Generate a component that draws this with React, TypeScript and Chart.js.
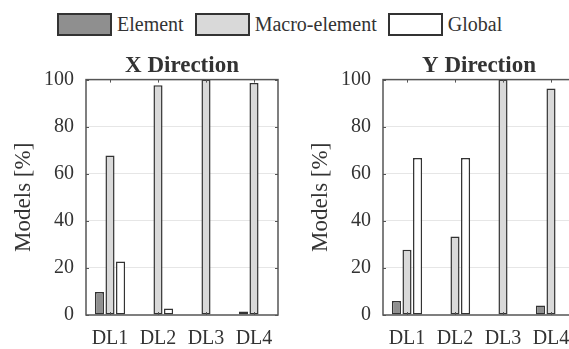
import React, { useEffect, useRef } from 'react';
import { Chart, registerables } from 'chart.js';

Chart.register(...registerables);

// ---- Data ----
const categories = ['DL1', 'DL2', 'DL3', 'DL4'];
const seriesNames = ['Element', 'Macro-element', 'Global'];

const xElement = [9.8, 0, 0, 1.5];
const xMacro = [67.8, 97.6, 100, 98.6];
const xGlobal = [22.7, 2.8, 0, 0];

const yElement = [6, 0, 0, 4];
const yMacro = [27.7, 33.4, 100, 96.2];
const yGlobal = [66.7, 66.7, 0, 0];

const panelTitles = ['X Direction', 'Y Direction'];
const yAxisTitle = 'Models [%]';

// ---- Styles ----
const FONT = "'Liberation Serif', 'Tinos'";
const seriesColors = ['#8f8f8f', '#d9d9d9', '#ffffff'];
const edgeColor = '#333333';
const textColor = '#333333';

const framePlugin = {
  id: 'frame',
  afterDatasetsDraw(chart: any) {
    const { ctx, chartArea: a, scales } = chart;
    ctx.save();
    ctx.strokeStyle = '#555555';
    ctx.lineWidth = 1;
    const line = (x1: number, y1: number, x2: number, y2: number) => {
      ctx.beginPath();
      ctx.moveTo(x1, y1);
      ctx.lineTo(x2, y2);
      ctx.stroke();
    };
    const xs = scales.x;
    xs.ticks.forEach((_: any, i: number) => {
      const px = Math.round(xs.getPixelForTick(i)) + 0.5;
      line(px, a.top, px, a.top + 3);
      line(px, a.bottom, px, a.bottom - 3);
    });
    const ys = scales.y;
    ys.ticks.forEach((_: any, i: number) => {
      const py = Math.round(ys.getPixelForTick(i)) + 0.5;
      line(a.left, py, a.left + 3, py);
      line(a.right, py, a.right - 3, py);
    });
    ctx.lineWidth = 1.5;
    ctx.strokeRect(a.left, a.top, a.right - a.left, a.bottom - a.top);
    ctx.restore();
  },
};

function Panel({ title, series, left }: { title: string; series: number[][]; left: number }) {
  const ref = useRef<HTMLCanvasElement | null>(null);
  useEffect(() => {
    if (!ref.current) return;
    const chart = new Chart(ref.current, {
      type: 'bar',
      data: {
        labels: categories,
        datasets: series.map((d, i) => ({
          label: seriesNames[i],
          data: d,
          backgroundColor: seriesColors[i],
          borderColor: edgeColor,
          borderWidth: (c: any) => (c.raw ? 1.5 : 0),
          borderSkipped: false,
          categoryPercentage: 0.66,
          barPercentage: 0.86,
        })),
      },
      options: {
        animation: false,
        responsive: false,
        maintainAspectRatio: false,
        layout: { padding: { left: 0, right: 12, top: 0, bottom: 0 } },
        plugins: {
          legend: { display: false },
          tooltip: { enabled: false },
          title: {
            display: true,
            fullSize: false,
            text: title,
            color: textColor,
            font: { family: FONT, size: 23, weight: 'bold', lineHeight: 1.2 },
            padding: { top: 4, bottom: 0 },
          },
        },
        scales: {
          x: {
            grid: { display: false, drawTicks: false },
            border: { display: false },
            ticks: {
              color: textColor,
              font: { family: FONT, size: 20, lineHeight: 1 },
              padding: 14,
              maxRotation: 0,
              autoSkip: false,
            },
            afterFit: (s: any) => {
              s.height = 34;
            },
          },
          y: {
            min: 0,
            max: 100,
            ticks: {
              stepSize: 20,
              color: textColor,
              font: { family: FONT, size: 20, lineHeight: 1 },
              padding: 12,
            },
            grid: {
              drawTicks: false,
              lineWidth: 1,
              color: (c: any) =>
                c.tick && (c.tick.value === 0 || c.tick.value === 100) ? 'rgba(0,0,0,0)' : '#e6e6e6',
            },
            border: { display: false },
            title: {
              display: true,
              text: yAxisTitle,
              color: textColor,
              font: { family: FONT, size: 23, lineHeight: 1.2 },
              padding: { top: 10, bottom: 0 },
            },
            afterFit: (s: any) => {
              s.width = 86;
            },
          },
        },
      },
      plugins: [framePlugin],
    } as any);
    return () => chart.destroy();
  }, [title, series]);
  return (
    <div style={{ position: 'absolute', left, top: 48, width: 290, height: 301 }}>
      <canvas ref={ref} width={290} height={301} style={{ width: 290, height: 301, display: 'block' }} />
    </div>
  );
}

export default function App() {
  return (
    <div
      style={{
        position: 'fixed',
        left: 0,
        top: 0,
        width: 569,
        height: 349,
        overflow: 'hidden',
        background: '#ffffff',
      }}
    >
      <div
        style={{
          position: 'absolute',
          left: 57,
          top: 13,
          display: 'flex',
          alignItems: 'center',
          fontFamily: FONT,
          fontSize: 20,
          color: textColor,
          whiteSpace: 'nowrap',
        }}
      >
        {seriesNames.map((n, i) => (
          <div key={n} style={{ display: 'flex', alignItems: 'center', marginRight: 11 }}>
            <span
              style={{
                display: 'inline-block',
                width: 55,
                height: 23,
                boxSizing: 'border-box',
                border: `2px solid ${edgeColor}`,
                background: seriesColors[i],
              }}
            />
            <span style={{ marginLeft: 5, lineHeight: '23px' }}>{n}</span>
          </div>
        ))}
      </div>
      <Panel title={panelTitles[0]} series={[xElement, xMacro, xGlobal]} left={0} />
      <Panel title={panelTitles[1]} series={[yElement, yMacro, yGlobal]} left={297} />
    </div>
  );
}
